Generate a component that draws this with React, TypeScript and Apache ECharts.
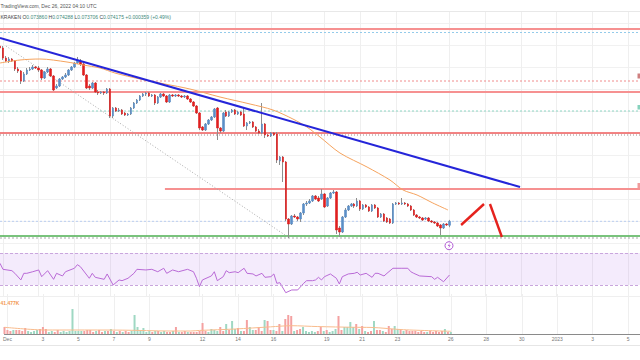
import React, { useEffect, useRef } from "react";
import * as echarts from "echarts";

// ---------- data ----------
const START_UTC = Date.UTC(2022, 10, 30, 20, 0); // first 4h bar
const BAR_MS = 4 * 3600 * 1000;
const SLOT_COUNT = 216; // bars + empty future slots up to the right edge

const TICK_DAYS = [0, 2, 4, 6, 8, 11, 13, 15, 18, 20, 22, 25, 27, 29, 31, 33, 35];
const TICK_LABELS = ["Dec", "3", "5", "7", "9", "12", "14", "16", "19", "21", "23", "26", "28", "30", "2023", "3", "5"];

// [open, close, low, high]
const OHLC: number[][] = [
  [0.0882, 0.08804, 0.08772, 0.08852], [0.08804, 0.08724, 0.08708, 0.0882], [0.08724, 0.087, 0.08692, 0.0874],
  [0.087, 0.08716, 0.08684, 0.08732], [0.08716, 0.087, 0.08692, 0.08724], [0.087, 0.08636, 0.0862, 0.08708],
  [0.08636, 0.0862, 0.08604, 0.08652], [0.0862, 0.0854, 0.08516, 0.08628], [0.0854, 0.08596, 0.08532, 0.08612],
  [0.08596, 0.08628, 0.08588, 0.08644], [0.08628, 0.08636, 0.0862, 0.08652], [0.08636, 0.08652, 0.08628, 0.08668],
  [0.08652, 0.08644, 0.08636, 0.0866], [0.08644, 0.08628, 0.08612, 0.0866], [0.08628, 0.08564, 0.08548, 0.08636],
  [0.08564, 0.08612, 0.08556, 0.0862], [0.08612, 0.08636, 0.08604, 0.08652], [0.08636, 0.0858, 0.08572, 0.08644],
  [0.0858, 0.08468, 0.0846, 0.08588], [0.08484, 0.085, 0.08476, 0.08516], [0.085, 0.08556, 0.08492, 0.08564],
  [0.08556, 0.08572, 0.08548, 0.0858], [0.08572, 0.08588, 0.08564, 0.08604], [0.08588, 0.08628, 0.0858, 0.08636],
  [0.08628, 0.08652, 0.0862, 0.0866], [0.08652, 0.08684, 0.08644, 0.08692], [0.08684, 0.08708, 0.08676, 0.08732],
  [0.087, 0.08676, 0.0866, 0.08716], [0.08676, 0.08588, 0.0858, 0.08684], [0.08588, 0.08484, 0.08476, 0.08596],
  [0.085, 0.08484, 0.08468, 0.08516], [0.08484, 0.08524, 0.08476, 0.08532], [0.08524, 0.08452, 0.08444, 0.08532],
  [0.08452, 0.08444, 0.08428, 0.08468], [0.08444, 0.08452, 0.08436, 0.0846], [0.08452, 0.08444, 0.08428, 0.0846],
  [0.08444, 0.08476, 0.08436, 0.08484], [0.08476, 0.0826, 0.08244, 0.08484], [0.0826, 0.08324, 0.08244, 0.08332],
  [0.08324, 0.083, 0.08292, 0.08332], [0.083, 0.08308, 0.08292, 0.08324], [0.08308, 0.08276, 0.08268, 0.08316],
  [0.08284, 0.08268, 0.0826, 0.08292], [0.08268, 0.08276, 0.0826, 0.08284], [0.08276, 0.08324, 0.08268, 0.08332],
  [0.08324, 0.08364, 0.08316, 0.08372], [0.08364, 0.08388, 0.08356, 0.08396], [0.08388, 0.0842, 0.0838, 0.08428],
  [0.0842, 0.08436, 0.08412, 0.08444], [0.08436, 0.08444, 0.0842, 0.08452], [0.08444, 0.0842, 0.08412, 0.08452],
  [0.0842, 0.08428, 0.08412, 0.08436], [0.08428, 0.08364, 0.08348, 0.08436], [0.08364, 0.08412, 0.08356, 0.0842],
  [0.08412, 0.08436, 0.08404, 0.08444], [0.08436, 0.0842, 0.08412, 0.08444], [0.0842, 0.08372, 0.08364, 0.08428],
  [0.08372, 0.08428, 0.08364, 0.08436], [0.08428, 0.0842, 0.08412, 0.08436], [0.0842, 0.08428, 0.08412, 0.08436],
  [0.08428, 0.0842, 0.08412, 0.08436], [0.0842, 0.08412, 0.08404, 0.08428], [0.08412, 0.0842, 0.08404, 0.08428],
  [0.0842, 0.08396, 0.08388, 0.08428], [0.08396, 0.08372, 0.08364, 0.08404], [0.08372, 0.0834, 0.08332, 0.0838],
  [0.0834, 0.08284, 0.08276, 0.08348], [0.08284, 0.08164, 0.08148, 0.08292], [0.08172, 0.08148, 0.0814, 0.0818],
  [0.08148, 0.08196, 0.0814, 0.08204], [0.08196, 0.08228, 0.08188, 0.08236], [0.08228, 0.08252, 0.0822, 0.0826],
  [0.08252, 0.08316, 0.08244, 0.08324], [0.08324, 0.08164, 0.08068, 0.08332], [0.08164, 0.0814, 0.08124, 0.08172],
  [0.0814, 0.08284, 0.08132, 0.08292], [0.08292, 0.0826, 0.08252, 0.08308], [0.0826, 0.08292, 0.08252, 0.083],
  [0.08292, 0.08308, 0.08284, 0.08316], [0.08308, 0.08276, 0.08268, 0.08316], [0.08276, 0.08292, 0.08268, 0.083],
  [0.08292, 0.08268, 0.0826, 0.083], [0.08276, 0.0818, 0.08172, 0.08324], [0.0818, 0.08204, 0.08148, 0.08212],
  [0.08204, 0.08212, 0.08196, 0.0822], [0.08212, 0.08172, 0.08164, 0.0822], [0.08172, 0.0814, 0.08132, 0.0818],
  [0.0814, 0.08124, 0.08116, 0.08156], [0.08124, 0.08196, 0.08116, 0.08364], [0.08196, 0.08108, 0.08084, 0.08204],
  [0.08108, 0.081, 0.08092, 0.08116], [0.081, 0.08124, 0.08092, 0.08132], [0.08124, 0.08108, 0.081, 0.08132],
  [0.08116, 0.07908, 0.07884, 0.08132], [0.079, 0.07932, 0.07868, 0.0794], [0.07932, 0.07892, 0.07732, 0.0794],
  [0.07892, 0.07436, 0.0742, 0.079], [0.07436, 0.07396, 0.07284, 0.07444], [0.07396, 0.0746, 0.07388, 0.07468],
  [0.0746, 0.07452, 0.07444, 0.07476], [0.07452, 0.07436, 0.0742, 0.0746], [0.07436, 0.07484, 0.07412, 0.07492],
  [0.07484, 0.07556, 0.07468, 0.07564], [0.07556, 0.07564, 0.0754, 0.0758], [0.07564, 0.0758, 0.07556, 0.07596],
  [0.0758, 0.0762, 0.07572, 0.07628], [0.0762, 0.07596, 0.07588, 0.07628], [0.07604, 0.0758, 0.07572, 0.0762],
  [0.07596, 0.07636, 0.07588, 0.07676], [0.07636, 0.07532, 0.07524, 0.07644], [0.0754, 0.07604, 0.07532, 0.07612],
  [0.07604, 0.07644, 0.07596, 0.07652], [0.07644, 0.07652, 0.07636, 0.07668], [0.07652, 0.07348, 0.07316, 0.0766],
  [0.07364, 0.07332, 0.07292, 0.0738], [0.07332, 0.07452, 0.07324, 0.0746], [0.07452, 0.07508, 0.07444, 0.07524],
  [0.07508, 0.0754, 0.075, 0.07548], [0.0754, 0.07556, 0.07532, 0.07564], [0.07556, 0.0754, 0.07524, 0.07564],
  [0.0754, 0.0758, 0.07532, 0.07604], [0.0758, 0.07516, 0.075, 0.07588], [0.07516, 0.07548, 0.07508, 0.07556],
  [0.07548, 0.07532, 0.07524, 0.07556], [0.07532, 0.075, 0.07492, 0.0754], [0.075, 0.07548, 0.07492, 0.07556],
  [0.07548, 0.07524, 0.07516, 0.07556], [0.07524, 0.07452, 0.07444, 0.07532], [0.07452, 0.07476, 0.07444, 0.07484],
  [0.07476, 0.0742, 0.07412, 0.07484], [0.07444, 0.07412, 0.07404, 0.07452], [0.07436, 0.07404, 0.07396, 0.07444],
  [0.07404, 0.07556, 0.07396, 0.07564], [0.07556, 0.07564, 0.07548, 0.07572], [0.07564, 0.07556, 0.07548, 0.07572],
  [0.07556, 0.07564, 0.07548, 0.07604], [0.07564, 0.07556, 0.07548, 0.07572], [0.07556, 0.0754, 0.07532, 0.07564],
  [0.0754, 0.07508, 0.075, 0.07548], [0.07508, 0.07468, 0.0746, 0.07516], [0.07468, 0.07452, 0.07444, 0.07476],
  [0.07452, 0.07444, 0.07436, 0.0746], [0.07444, 0.07428, 0.0742, 0.07452], [0.07436, 0.07444, 0.07428, 0.07452],
  [0.07444, 0.0742, 0.07412, 0.07452], [0.0742, 0.07412, 0.07404, 0.07428], [0.07412, 0.07404, 0.07396, 0.0742],
  [0.07404, 0.0738, 0.07372, 0.07412], [0.07388, 0.07364, 0.07308, 0.07396], [0.07364, 0.07396, 0.07356, 0.07404],
  [0.07396, 0.07388, 0.0738, 0.07404], [0.07386, 0.074175, 0.073706, 0.074288],
];

// volume per bar, thousands
const VOLUME_K = [
  49, 28, 21, 28, 28, 28, 21, 42, 21, 14, 21, 28, 35, 49, 35, 14, 21, 14, 28, 14,
  21, 14, 21, 175, 21, 21, 21, 21, 28, 28, 14, 21, 28, 14, 21, 21, 35, 21, 14, 21,
  14, 21, 14, 21, 133, 49, 21, 42, 14, 21, 14, 21, 21, 14, 21, 14, 14, 21, 49, 14,
  14, 21, 14, 14, 14, 14, 21, 77, 21, 14, 35, 28, 21, 49, 21, 70, 28, 91, 35, 42,
  21, 21, 98, 49, 28, 28, 49, 21, 98, 91, 28, 28, 21, 70, 21, 105, 133, 126, 21, 28,
  35, 49, 21, 14, 21, 14, 21, 49, 21, 28, 14, 21, 35, 126, 28, 49, 49, 84, 49, 70,
  35, 56, 21, 14, 21, 91, 28, 28, 21, 14, 56, 35, 56, 35, 28, 21, 28, 21, 21, 21,
  14, 21, 14, 14, 21, 14, 21, 14, 21, 35, 14, 14,
];
const VOLUME_MA_K: number[][] = [
  [0, 47], [14, 28], [23, 28], [40, 27], [56, 21], [63, 21], [66, 25], [78, 35], [90, 50],
  [97, 58], [106, 52], [118, 47], [124, 46], [135, 30], [151, 19],
];

// orange moving average [bar position, price]
const MA_POINTS: number[][] = [
  [0, 0.08684], [6.7, 0.08708], [13.4, 0.08716], [22.5, 0.08692], [27.9, 0.08668], [33.6, 0.08644],
  [38.6, 0.08604], [47, 0.08556], [55.4, 0.08516], [63.8, 0.08476], [73.9, 0.08412], [84, 0.08356],
  [91.7, 0.08308], [98.4, 0.08236], [103.1, 0.08172], [107.5, 0.08092], [114.2, 0.07964], [123.3, 0.07852],
  [131, 0.07748], [135.4, 0.07668], [140.1, 0.07628], [145.4, 0.07564], [150.5, 0.07508],
];

// RSI [bar, value]
const RSI_POINTS: number[][] = [
  [0, 57.1], [1, 49.6], [4, 47.9], [5, 44.6], [7, 36.3], [8, 44.6], [9, 44.6], [11, 46.6], [13, 48.8],
  [14, 40.4], [16, 47.9], [18, 37.1], [19, 44.6], [21, 41.3], [22, 46.6], [25, 50.9], [26, 55.4], [27, 52.9],
  [30, 38.4], [31, 44.6], [32, 39.6], [35, 37.1], [36, 43.8], [38, 30], [40, 36.3], [41, 35.4], [43, 38.4],
  [45, 44.6], [46, 49.6], [49, 48.8], [51, 49.6], [53, 46.6], [55, 50.9], [56, 44.6], [58, 48.8], [60, 46.6],
  [63, 49.6], [65, 46.6], [66, 38.4], [67, 27.9], [68, 36.3], [71, 41.3], [72, 46.6], [73, 35.4], [75, 40.4],
  [76, 47.9], [77, 45.4], [79, 46.6], [80, 45.4], [82, 50.9], [83, 44.6], [85, 43.8], [86, 41.3], [88, 44.6],
  [89, 39.6], [91, 40.4], [92, 43.8], [93, 32.1], [94, 32.9], [96, 20.4], [98, 23.8], [100, 23.8], [102, 32.1],
  [103, 35.4], [105, 35.4], [106, 36.3], [107, 39.6], [108, 36.3], [109, 40.4], [111, 43.8], [113, 38.4],
  [114, 31.3], [115, 40.4], [117, 43.8], [119, 44.6], [120, 45.9], [121, 42.5], [123, 44.6], [125, 39.6],
  [126, 44.6], [127, 44.6], [129, 41.3], [130, 44.6], [132, 50.9], [135, 50.9], [137, 50.9], [138, 46.6],
  [139, 44.6], [141, 41.3], [145, 40.4], [146, 37.1], [147, 39.6], [149, 34.1], [151, 42.5],
];
const RSI_BAND = [70, 30];

// drawn levels and lines
const HLINE_PRICES = [0.08956, 0.08928, 0.0854, 0.08452, 0.083, 0.08124, 0.08108, 0.07676, 0.073, 0.07284];
const HLINE_FROM = [0, 0, 0, 0, 0, 0, 0, 55.4, 0, 0];
const TRENDLINE: number[][] = [[0, 0.08884], [174.7, 0.07692]];
const DOTTED_LINE: number[][] = [[2, 0.0882], [96.7, 0.07292]];
const ARROW_UP: number[][] = [[154.9, 0.07388], [162.6, 0.07556]];
const ARROW_DOWN: number[][] = [[164.6, 0.07556], [168.6, 0.07292]];

const HEADER_SOURCE = "TradingView.com, Dec 26, 2022 04:10 UTC";
const HEADER_OHLC = ["O", "0.073860", "H", "0.074288", "L", "0.073706", "C", "0.074175"];
const HEADER_CHANGE = "+0.000359 (+0.49%)";
const VOLUME_LABEL = "41.477K";

// ---------- layout ----------
const PRICE_MIN = 0.07188;
const PRICE_MAX = 0.091;
const FONT = "Liberation Sans, Arial, sans-serif";
const UP = "#5b8ec6";
const DOWN = "#df1f1f";

export default function App() {
  const ref = useRef<HTMLDivElement>(null);

  useEffect(() => {
    document.body.style.margin = "0";
    const el = ref.current;
    if (!el) return;
    const chart = echarts.init(el, null, { renderer: "svg" });

    const categories = Array.from({ length: SLOT_COUNT }, (_, i) =>
      new Date(START_UTC + i * BAR_MS).toISOString()
    );
    const tickMap = new Map<number, string>();
    TICK_DAYS.forEach((d, k) => {
      const t = Date.UTC(2022, 11, 1 + d);
      const idx = Math.round((t - START_UTC) / BAR_MS);
      tickMap.set(idx, TICK_LABELS[k]);
    });

    const catAxis = (gridIndex: number, withLabels: boolean) => ({
      type: "category",
      gridIndex,
      data: categories,
      boundaryGap: false,
      axisLine: { show: withLabels, onZero: false, lineStyle: { color: "#8a8a8a", width: 1 } },
      axisTick: { show: false },
      axisLabel: {
        show: withLabels,
        interval: (i: number) => tickMap.has(i),
        formatter: (_v: string, i: number) => tickMap.get(i) ?? "",
        fontSize: 5,
        color: "#777777",
        margin: 2,
        fontFamily: FONT,
      },
      splitLine: {
        show: true,
        interval: (i: number) => tickMap.has(i),
        lineStyle: { color: "#efefef", width: 1 },
      },
    });
    const valAxis = (gridIndex: number) => ({
      type: "value",
      gridIndex,
      min: 0,
      max: SLOT_COUNT - 1,
      show: false,
    });

    const hStyles: any[] = [
      { color: "#f69191", width: 2.2, type: "solid" },
      { color: "#94cbea", width: 1, type: [2, 2] },
      { color: "#f08c8c", width: 1, type: [2, 2] },
      { color: "#f69191", width: 2.2, type: "solid" },
      { color: "#8ed6c4", width: 1, type: [2, 2] },
      { color: "#ef5b5b", width: 1.4, type: "solid" },
      { color: "#a48686", width: 1, type: [1, 2] },
      { color: "#f69191", width: 2.2, type: "solid" },
      { color: "#4caf50", width: 1.4, type: "solid" },
      { color: "#a9a9a9", width: 1, type: [2, 2] },
    ];

    const lineSeries = (data: number[][], style: any, z = 3, extra: any = {}) => ({
      type: "line",
      xAxisIndex: 3,
      yAxisIndex: 0,
      data,
      symbol: "none",
      silent: true,
      z,
      lineStyle: style,
      ...extra,
    });

    const last = OHLC[OHLC.length - 1];

    const series: any[] = [
      ...HLINE_PRICES.map((p, k) =>
        lineSeries([[HLINE_FROM[k], p], [SLOT_COUNT - 1, p]], hStyles[k], 2)
      ),
      lineSeries([[0, last[1]], [SLOT_COUNT - 1, last[1]]], { color: "#b9cdf0", width: 1, type: [2, 2] }, 2),
      lineSeries(DOTTED_LINE, { color: "#a8a8a8", width: 1, type: [1, 2] }, 2),
      {
        type: "candlestick",
        xAxisIndex: 0,
        yAxisIndex: 0,
        data: OHLC,
        barWidth: 0.4,
        silent: true,
        z: 3,
        itemStyle: { color: "#8e8e8e", color0: "#8e8e8e", borderColor: "#8e8e8e", borderColor0: "#8e8e8e", borderWidth: 1 },
      },
      {
        type: "candlestick",
        xAxisIndex: 0,
        yAxisIndex: 0,
        data: OHLC.map(([o, c]) => [o, c, Math.min(o, c), Math.max(o, c)]),
        barWidth: 2,
        silent: true,
        z: 4,
        itemStyle: { color: UP, color0: DOWN, borderColor: UP, borderColor0: DOWN, borderWidth: 0.6 },
      },
      lineSeries(MA_POINTS, { color: "#f5a35e", width: 1 }, 5, { smooth: 0.3 }),
      lineSeries(TRENDLINE, { color: "#2525d9", width: 2 }, 6),
      lineSeries(ARROW_UP, { color: "#e5221d", width: 2.4 }, 6),
      lineSeries(ARROW_DOWN, { color: "#e5221d", width: 2.4 }, 6),
      {
        type: "line",
        xAxisIndex: 4,
        yAxisIndex: 1,
        data: RSI_POINTS,
        symbol: "none",
        silent: true,
        z: 4,
        lineStyle: { color: "#b96ad6", width: 1 },
        markArea: {
          silent: true,
          itemStyle: { color: "rgba(176, 110, 232, 0.14)" },
          data: [[{ yAxis: RSI_BAND[0] }, { yAxis: RSI_BAND[1] }]],
        },
        markLine: {
          silent: true,
          symbol: "none",
          label: { show: false },
          lineStyle: { type: [3, 2], color: "#c9a6dd", width: 1 },
          data: [{ yAxis: RSI_BAND[0] }, { yAxis: RSI_BAND[1] }],
        },
      },
      {
        type: "bar",
        xAxisIndex: 2,
        yAxisIndex: 2,
        barWidth: 2,
        silent: true,
        data: VOLUME_K.map((v, i) => ({
          value: v,
          itemStyle: { color: OHLC[i][1] >= OHLC[i][0] ? "#9fd8c3" : "#f4a1a1" },
        })),
      },
      {
        type: "line",
        xAxisIndex: 5,
        yAxisIndex: 2,
        data: VOLUME_MA_K,
        symbol: "none",
        smooth: 0.3,
        silent: true,
        z: 4,
        lineStyle: { color: "#f8bb8c", width: 1 },
      },
    ];

    const option: any = {
      animation: false,
      backgroundColor: "#ffffff",
      tooltip: { show: false },
      grid: [
        { left: 0, right: 0, top: 11, height: 239 },
        { left: 0, right: 0, top: 241, height: 56 },
        { left: 0, right: 0, top: 294, height: 40 },
        { left: 0, right: 0, top: 23, height: 220 },
      ],
      xAxis: [
        catAxis(0, false),
        catAxis(1, false),
        catAxis(2, true),
        valAxis(0),
        valAxis(1),
        valAxis(2),
        { type: "value", gridIndex: 3, min: 0, max: 1, show: false },
      ],
      yAxis: [
        { type: "value", gridIndex: 0, min: PRICE_MIN, max: PRICE_MAX, show: false },
        { type: "value", gridIndex: 1, min: 15, max: 85, show: false },
        { type: "value", gridIndex: 2, min: 0, max: 280, show: false },
        {
          type: "value",
          gridIndex: 3,
          inverse: true,
          min: 0,
          max: 220,
          interval: 22,
          axisLine: { show: false },
          axisTick: { show: false },
          axisLabel: { show: false },
          splitLine: { show: true, lineStyle: { color: "#f1f1f1", width: 1 } },
        },
      ],
      series,
      graphic: [
        { type: "line", silent: true, z: 1, shape: { x1: 0, y1: 11.5, x2: 640, y2: 11.5 }, style: { stroke: "#e8e8e8", lineWidth: 1 } },
        { type: "line", silent: true, z: 1, shape: { x1: 0, y1: 296.5, x2: 640, y2: 296.5 }, style: { stroke: "#efefef", lineWidth: 1 } },
        { type: "line", silent: true, z: 1, shape: { x1: 0, y1: 345.5, x2: 640, y2: 345.5 }, style: { stroke: "#e6e6e6", lineWidth: 1 } },
        {
          type: "text", z: 20, x: 0.5, y: 5.8,
          style: { text: HEADER_SOURCE, fontSize: 5, fontFamily: FONT, fill: "#555555", verticalAlign: "middle" },
        },
        {
          type: "text", z: 20, x: 0.5, y: 17,
          style: {
            text:
              "{n|KRAKEN} " +
              [0, 2, 4, 6].map((k) => `{l|${HEADER_OHLC[k]}}{v|${HEADER_OHLC[k + 1]}}`).join(" ") +
              ` {v|${HEADER_CHANGE}}`,
            fontSize: 5,
            fontFamily: FONT,
            verticalAlign: "middle",
            fill: "#444444",
            rich: {
              n: { fontSize: 5, fontFamily: FONT, fill: "#444444" },
              l: { fontSize: 5, fontFamily: FONT, fill: "#444444" },
              v: { fontSize: 5, fontFamily: FONT, fill: "#3e8a7b" },
            },
          },
        },
        {
          type: "text", z: 20, x: 0.5, y: 303,
          style: { text: VOLUME_LABEL, fontSize: 5, fontWeight: "bold", fontFamily: FONT, fill: "#f39b52", verticalAlign: "middle" },
        },
        { type: "circle", z: 20, shape: { cx: 449, cy: 245.7, r: 4 }, style: { fill: "#ffffff", stroke: "#b15bd4", lineWidth: 1 } },
        {
          type: "polygon", z: 21,
          shape: { points: [[450, 242.6], [447.7, 246], [449.3, 246], [448.3, 248.8], [450.7, 245.2], [449.1, 245.2]] },
          style: { fill: "#b15bd4" },
        },
        { type: "rect", z: 20, shape: { x: 637.5, y: 73.5, width: 3, height: 5 }, style: { fill: "#cf8080" } },
        { type: "rect", z: 20, shape: { x: 637.5, y: 105, width: 3, height: 4.5 }, style: { fill: "#86d2bd" } },
        { type: "rect", z: 20, shape: { x: 637.5, y: 183, width: 3, height: 5 }, style: { fill: "#f09c9c" } },
      ],
    };

    chart.setOption(option);
    return () => chart.dispose();
  }, []);

  return <div ref={ref} style={{ width: 640, height: 360 }} />;
}
